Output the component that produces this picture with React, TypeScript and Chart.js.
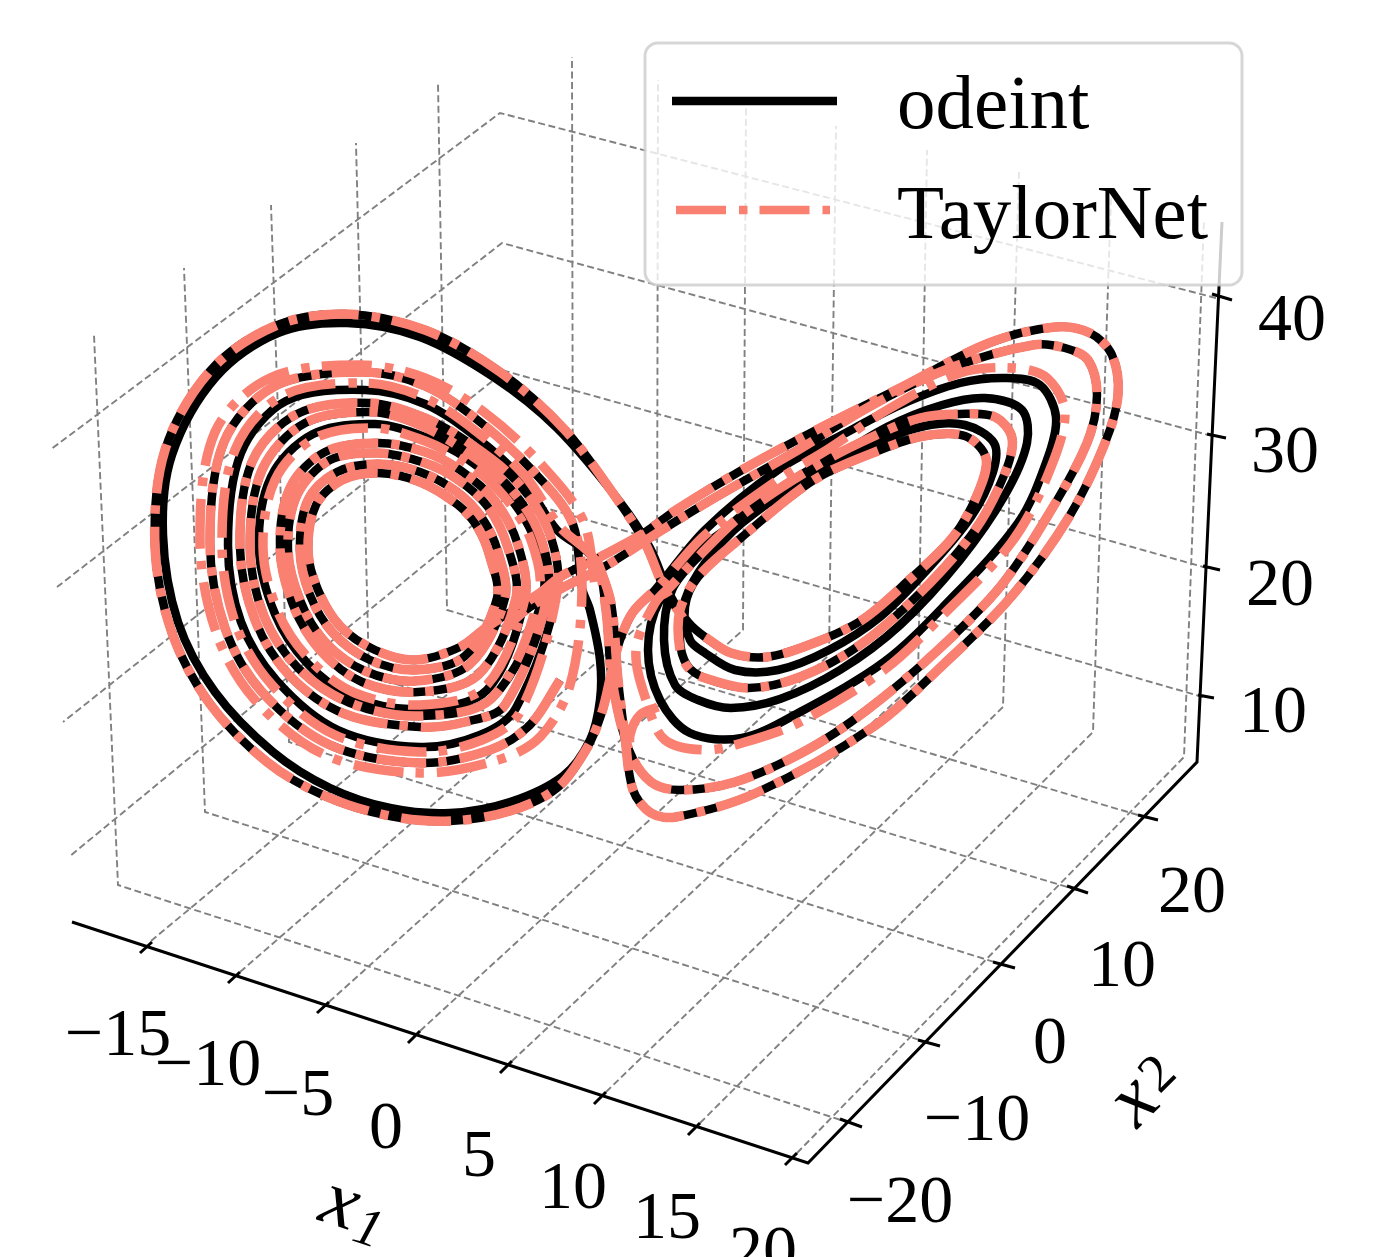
import React, { useEffect, useRef } from "react";
import { Chart, registerables } from "chart.js";

Chart.register(...registerables);

type P = number[];

// Projected axes (the 3D box as seen on the picture)
const axisLine: P[] = [[72, 922], [808, 1163], [1197, 762], [1222, 222]];
const x1Ticks: P[][] = [
  [[140, 953], [152, 942]], [[228, 983], [240, 972]], [[317, 1013], [329, 1002]], [[408, 1043], [420, 1031]],
  [[500, 1073], [512, 1061]], [[594, 1104], [606, 1092]], [[688, 1135], [700, 1123]], [[785, 1165], [797, 1153]],
];
const x2Ticks: P[][] = [
  [[840, 1119], [862, 1127]], [[918, 1040], [940, 1046]], [[993, 962], [1015, 968]], [[1067, 886], [1088, 893]], [[1138, 815], [1158, 820]],
];
const x3Ticks: P[][] = [
  [[1198, 695], [1214, 698]], [[1203, 566], [1220, 570]], [[1207, 434], [1226, 438]], [[1212, 294], [1232, 300]],
];
const x1Grid: P[][] = [
  [[151, 941], [573, 590], [572, 57]], [[240, 972], [657, 610], [658, 80]], [[329, 1002], [743, 630], [746, 105]],
  [[420, 1031], [829, 655], [836, 126]], [[512, 1061], [918, 680], [927, 150]], [[606, 1092], [1003, 707], [1019, 172]],
  [[700, 1123], [1093, 732], [1111, 198]], [[797, 1153], [1184, 757], [1204, 220]],
];
const x2Grid: P[][] = [
  [[850, 1123], [118, 885], [94, 335]], [[929, 1043], [205, 812], [184, 268]], [[1004, 965], [289, 742], [271, 205]],
  [[1077, 890], [369, 676], [356, 143]], [[1148, 818], [447, 610], [438, 83]],
];
const x3Grid: P[][] = [
  [[1203, 697], [507, 497], [70, 856]], [[1207, 568], [505, 371], [63, 722]], [[1212, 436], [502, 243], [57, 587]], [[1216, 298], [500, 113], [50, 450]],
];

// Left wing of the attractor, turn by turn
const L0: P[] = [[620,640],[612,670],[602,712],[587,748],[557,788],[510,811],[450,821],[390,816],[325,796],[267,762],[210,704],[172,633],[155,547],[165,450],[210,371],[275,326],[345,314],[425,330],[500,372],[565,430],[617,499],[645,543],[665,590],[683,618]];
const L1: P[] = [[590,610],[600,660],[600,700],[590,740],[563,776],[510,802],[450,813],[390,808],[330,788],[273,752],[215,692],[178,622],[163,535],[172,455],[216,377],[278,333],[347,323],[420,337],[495,378],[557,428],[620,502],[650,548],[670,595],[688,622]];
const L2: P[] = [[487,627],[460,647],[415,660],[375,650],[340,626],[318,590],[308,550],[316,505],[342,480],[378,473],[420,482],[458,505],[478,528],[490,557],[497,598]];
const L3: P[] = [[465,656],[415,670],[370,660],[333,633],[310,595],[300,550],[308,500],[337,472],[378,464],[420,472],[457,492],[482,518],[498,552],[505,598]];
const L4: P[] = [[470,664],[415,681],[365,671],[325,642],[300,600],[288,550],[297,495],[330,460],[378,453],[425,463],[457,479],[488,507],[508,548],[516,598]];
const L5: P[] = [[478,675],[418,692],[362,682],[320,650],[293,605],[280,548],[290,488],[325,452],[378,443],[425,452],[460,470],[495,501],[518,545],[525,598]];
const L6: P[] = [[485,687],[420,705],[355,693],[310,660],[278,612],[263,548],[275,480],[315,438],[375,428],[425,441],[465,462],[503,495],[531,540],[539,596]];
const L6k: P[] = [[487,690],[420,709],[353,697],[307,663],[275,614],[259,548],[271,477],[313,434],[375,424],[425,437],[466,458],[505,492],[534,538],[543,596]];
const L7: P[] = [[492,698],[420,716],[350,703],[298,668],[264,616],[250,548],[262,470],[305,423],[372,412],[420,425],[467,452],[510,488],[540,536],[548,594]];
const L8: P[] = [[505,705],[465,722],[420,727],[345,714],[290,676],[255,620],[240,548],[252,462],[297,414],[370,403],[425,418],[472,445],[517,482],[549,532],[557,592]];
const L9: P[] = [[520,712],[482,740],[420,752],[335,735],[272,685],[236,625],[222,545],[235,450],[282,396],[365,383],[425,398],[477,432],[525,476],[560,527]];
const L9k: P[] = [[516,708],[480,735],[420,747],[338,730],[277,681],[241,622],[228,545],[241,453],[286,401],[365,390],[425,404],[476,437],[523,480],[557,530]];
const L10: P[] = [[560,680],[530,725],[490,750],[420,763],[330,745],[262,692],[225,628],[210,543],[224,442],[275,386],[362,372],[425,386],[480,422],[532,470],[572,522],[582,588]];
const L11: P[] = [[570,685],[540,737],[498,760],[420,773],[325,755],[255,700],[216,632],[200,540],[215,432],[270,378],[360,365],[425,378],[484,412],[540,463],[583,520],[595,585]];

// Right wing, turn by turn
const R1: P[] = [[705,637],[731,653],[767,657],[814,643],[862,620],[909,580],[953,537],[978,493],[986,458],[965,436],[924,436],[880,450],[814,480],[742,537],[698,577],[685,607],[690,640]];
const R1t: P[] = [[705,637],[731,653],[767,657],[814,643],[862,620],[909,580],[953,537],[978,493],[986,458],[965,436],[924,436],[880,450],[814,480],[742,537],[698,577],[680,610],[680,650],[690,670]];
const R2: P[] = [[705,653],[735,670],[778,670],[829,650],[880,617],[927,570],[971,517],[993,472],[994,443],[965,425],[925,426],[870,445],[814,473],[742,523],[705,563],[685,600],[680,640],[687,665]];
const R3: P[] = [[705,678],[749,688],[800,677],[860,645],[920,593],[975,530],[1005,473],[1012,438],[995,417],[960,414],[920,418],[870,438],[814,467],[742,515],[700,555],[672,590],[664,640],[675,685]];
const R3t: P[] = [[705,678],[749,688],[800,677],[860,645],[920,593],[975,530],[1005,473],[1012,438],[995,417],[960,414],[920,418],[870,438],[814,467],[742,515],[700,555],[672,585],[655,603],[636,650],[647,703],[665,740]];
const R4: P[] = [[698,700],[731,708],[780,699],[840,670],[900,625],[960,560],[1005,495],[1027,443],[1022,410],[985,398],[942,405],[887,427],[830,462],[778,497],[705,545],[660,600],[648,650],[660,700]];
const R5k: P[] = [[690,733],[742,738],[800,712],[884,662],[945,605],[1018,523],[1047,460],[1056,417],[1040,385],[1007,378],[960,383],[900,405],[840,436],[778,470],[705,530],[655,590],[633,612]];
const R5t: P[] = [[705,750],[742,743],[800,722],[884,670],[945,613],[1011,543],[1047,477],[1065,413],[1047,378],[1015,368],[960,373],[887,410],[830,448],[778,480],[705,535],[660,585],[633,612]];
const R6: P[] = [[595,560],[606,610],[612,680],[629,750],[651,782],[680,790],[735,782],[807,750],[867,710],[938,650],[1000,587],[1047,517],[1087,443],[1097,395],[1088,360],[1065,348],[1033,345],[953,367],[876,403],[793,453],[716,497],[662,530],[604,567],[564,587],[530,607],[505,628]];
const R7: P[] = [[596,557],[611,603],[618,680],[625,737],[633,790],[651,813],[676,817],[756,793],[873,727],[945,663],[1011,597],[1069,517],[1105,443],[1118,395],[1112,355],[1090,333],[1055,327],[989,343],[902,387],[822,427],[742,470],[676,510],[644,533],[600,557],[560,577],[540,593]];
const hook: P[] = [[658,707],[640,715],[630,735],[631,755]];

const seriesNames = ["odeint", "TaylorNet"];
const odeintParts: P[][] = [
  [...R7, ...L2, ...L3, ...L4, ...L5, ...L6k, ...L7, ...L8, ...L9k, ...R6],
  [...L10, ...L1, ...R1, ...R2, ...R3, ...R4, ...R5k, ...L0],
];
const taylorParts: P[][] = [
  [...R7, ...L2, ...L3, ...L4, ...L5, ...L6, ...L7, ...L8, ...L9, ...R6],
  [...L10, ...L11],
  [...R1t, ...R3t, ...R5t, ...L0],
  hook,
];

const x1Labels = [["\u221215", 118, 1037], ["\u221210", 208, 1067], ["\u22125", 298, 1097], ["0", 386, 1130], ["5", 479, 1158], ["10", 573, 1190], ["15", 667, 1220], ["20", 763, 1254]];
const x2Labels = [["\u221220", 900, 1204], ["\u221210", 977, 1122], ["0", 1050, 1045], ["10", 1122, 968], ["20", 1192, 894]];
const x3Labels = [["10", 1273, 714], ["20", 1280, 587], ["30", 1285, 454], ["40", 1292, 322]];

const SALMON = "#FA8072";
const SERIF = '"Liberation Serif", serif';
const DASH_DOT = [50, 13, 8.5, 12];

function joinParts(parts: P[][]) {
  const out: { x: number; y: number }[] = [];
  parts.forEach((part, i) => {
    if (i > 0) out.push({ x: NaN, y: NaN });
    part.forEach(([x, y]) => out.push({ x, y }));
  });
  return out;
}

const textPlugin = {
  id: "textAndLegend",
  afterDatasetsDraw(chart: any) {
    const ctx: CanvasRenderingContext2D = chart.ctx;
    ctx.save();
    // tick labels
    ctx.fillStyle = "#000";
    ctx.textAlign = "center";
    ctx.textBaseline = "middle";
    ctx.font = `68px ${SERIF}`;
    [...x1Labels, ...x2Labels, ...x3Labels].forEach(([t, x, y]) => ctx.fillText(t as string, x as number, y as number));
    // axis titles
    const title = (sym: string, sub: string, x: number, y: number, sx: number, sy: number, rot: number, italicSub: boolean) => {
      ctx.save();
      ctx.translate(x, y);
      ctx.rotate(rot);
      ctx.font = `italic 80px ${SERIF}`;
      ctx.fillText(sym, 0, 0);
      ctx.font = `${italicSub ? "italic " : ""}54px ${SERIF}`;
      ctx.fillText(sub, sx, sy);
      ctx.restore();
    };
    title("x", "1", 340, 1205, 34, 16, (18 * Math.PI) / 180, true);
    title("x", "2", 1135, 1102, 36, -2, (-45 * Math.PI) / 180, false);
    // legend
    ctx.beginPath();
    ctx.roundRect(645, 43, 597, 242, 13);
    ctx.fillStyle = "rgba(255,255,255,0.8)";
    ctx.fill();
    ctx.strokeStyle = "rgba(204,204,204,0.8)";
    ctx.lineWidth = 3;
    ctx.stroke();
    ctx.lineCap = "butt";
    ctx.strokeStyle = "#000";
    ctx.lineWidth = 8.5;
    ctx.beginPath();
    ctx.moveTo(672, 101);
    ctx.lineTo(837, 101);
    ctx.stroke();
    ctx.strokeStyle = SALMON;
    ctx.setLineDash(DASH_DOT);
    ctx.beginPath();
    ctx.moveTo(676, 210);
    ctx.lineTo(830, 210);
    ctx.stroke();
    ctx.setLineDash([]);
    ctx.fillStyle = "#000";
    ctx.textAlign = "left";
    ctx.textBaseline = "alphabetic";
    ctx.font = `77px ${SERIF}`;
    ctx.fillText(seriesNames[0], 897, 128);
    ctx.fillText(seriesNames[1], 897, 238);
    ctx.restore();
  },
};

export default function App() {
  const ref = useRef<HTMLCanvasElement>(null);
  useEffect(() => {
    const thin = { pointRadius: 0, showLine: true, tension: 0, spanGaps: false };
    const chart = new Chart(ref.current as HTMLCanvasElement, {
      type: "scatter",
      data: {
        datasets: [
          { label: seriesNames[1], data: joinParts(taylorParts), order: 0, pointRadius: 0, showLine: true, spanGaps: false, tension: 0.33, borderColor: SALMON, borderWidth: 9.5, borderDash: DASH_DOT, borderCapStyle: "butt", borderJoinStyle: "round", capBezierPoints: false },
          { label: seriesNames[0], data: joinParts(odeintParts), order: 1, pointRadius: 0, showLine: true, spanGaps: false, tension: 0.33, borderColor: "#000", borderWidth: 8.5, borderCapStyle: "butt", borderJoinStyle: "round", capBezierPoints: false },
          { label: "axes", data: joinParts([axisLine, ...x1Ticks, ...x2Ticks, ...x3Ticks]), order: 2, ...thin, borderColor: "#000", borderWidth: 3 },
          { label: "grid", data: joinParts([...x1Grid, ...x2Grid, ...x3Grid]), order: 3, ...thin, borderColor: "#808080", borderWidth: 1.9, borderDash: [7, 3.5] },
        ] as any,
      },
      options: {
        animation: false,
        responsive: false,
        layout: { padding: 0 },
        plugins: { legend: { display: false }, tooltip: { enabled: false } },
        scales: {
          x: { type: "linear", display: false, min: 0, max: 1384 },
          y: { type: "linear", display: false, min: 0, max: 1257, reverse: true },
        },
      },
      plugins: [textPlugin],
    });
    return () => chart.destroy();
  }, []);
  return (
    <canvas ref={ref} width={1384} height={1257} style={{ position: "fixed", left: 0, top: 0, display: "block", background: "#fff" }} />
  );
}
